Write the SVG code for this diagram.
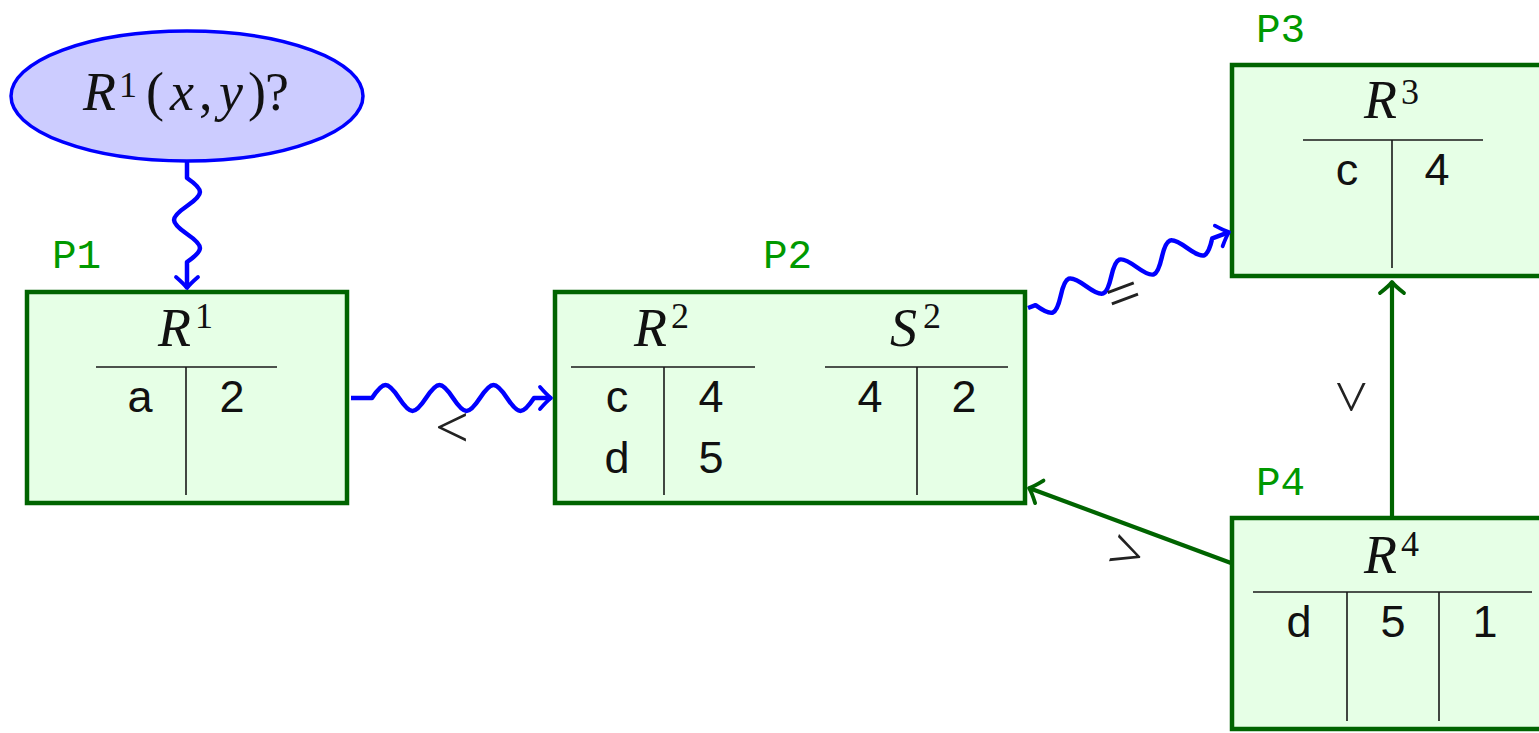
<svg xmlns="http://www.w3.org/2000/svg" width="1539" height="733" viewBox="0 0 1539 733">
<style>
.box{fill:#e6ffe6;stroke:#006400;stroke-width:4.5}
.tl{stroke:#1a1a1a;stroke-width:1.6;fill:none}
.math{font-family:"Liberation Serif","Times New Roman",serif;font-size:54px;fill:#111}
.it{font-style:italic}
.sup{font-size:36px;font-style:normal}
.cell{font-family:"Liberation Sans",Arial,sans-serif;font-size:45px;fill:#111;text-anchor:middle}
.pl{font-family:"Liberation Mono","Courier New",monospace;font-size:41px;fill:#009900}
.wave{fill:none;stroke:#0000ff;stroke-width:4.5;stroke-linejoin:round}
.gline{fill:none;stroke:#006400;stroke-width:4.2}
.rel{font-family:"Liberation Serif","Times New Roman",serif;font-size:60px;fill:#222;text-anchor:middle}
</style>
<defs>
<marker id="ab" markerUnits="userSpaceOnUse" viewBox="-14 -14 16 28" markerWidth="16" markerHeight="28" refX="0" refY="0" orient="auto" overflow="visible">
<path d="M-11,-11 Q-4,-3 0,0 Q-4,3 -11,11" fill="none" stroke="#0000ff" stroke-width="3.8" stroke-linecap="round" stroke-linejoin="round"/>
</marker>
<marker id="ag" markerUnits="userSpaceOnUse" viewBox="-14 -14 16 28" markerWidth="16" markerHeight="28" refX="0" refY="0" orient="auto" overflow="visible">
<path d="M-11,-12 Q-4,-3 0,0 Q-4,3 -11,12" fill="none" stroke="#006400" stroke-width="3.8" stroke-linecap="round" stroke-linejoin="round"/>
</marker>
</defs>
<rect width="1539" height="733" fill="#ffffff"/>

<g id="query">
<ellipse cx="187" cy="96" rx="176" ry="65" fill="#ccccff" stroke="#0000ff" stroke-width="3.5"/>
<text class="math"><tspan x="83" y="110" class="it">R</tspan><tspan x="119" y="97" class="sup">1</tspan><tspan x="146" y="110">(</tspan><tspan x="170" y="110" class="it">x</tspan><tspan x="199" y="110">,</tspan><tspan x="219" y="110" class="it">y</tspan><tspan x="248" y="110">)</tspan><tspan x="265" y="110">?</tspan></text>
</g>

<g id="P1">
<text class="pl" x="52" y="268">P1</text>
<rect class="box" x="27" y="292" width="320" height="211"/>
<text class="math"><tspan x="158" y="346" class="it">R</tspan><tspan x="195" y="328" class="sup">1</tspan></text>
<path class="tl" d="M96,367 H277 M186,367 V495"/>
<text class="cell" x="140" y="412">a</text>
<text class="cell" x="232" y="412">2</text>
</g>

<g id="P2">
<text class="pl" x="763" y="268">P2</text>
<rect class="box" x="555" y="292" width="470" height="211"/>
<text class="math"><tspan x="634" y="346" class="it">R</tspan><tspan x="671" y="328" class="sup">2</tspan></text>
<text class="math"><tspan x="890" y="346" class="it">S</tspan><tspan x="923" y="328" class="sup">2</tspan></text>
<path class="tl" d="M571,367 H755 M664,367 V495 M825,367 H1008 M917,367 V495"/>
<text class="cell" x="617" y="412">c</text>
<text class="cell" x="711" y="412">4</text>
<text class="cell" x="617" y="473">d</text>
<text class="cell" x="711" y="473">5</text>
<text class="cell" x="870" y="412">4</text>
<text class="cell" x="964" y="412">2</text>
</g>

<g id="P3">
<text class="pl" x="1256" y="42">P3</text>
<rect class="box" x="1232" y="65" width="330" height="211"/>
<text class="math"><tspan x="1364" y="118" class="it">R</tspan><tspan x="1401" y="104" class="sup">3</tspan></text>
<path class="tl" d="M1303,140 H1483 M1392,140 V268"/>
<text class="cell" x="1347" y="185">c</text>
<text class="cell" x="1437" y="185">4</text>
</g>

<g id="P4">
<text class="pl" x="1256" y="495">P4</text>
<rect class="box" x="1232" y="518" width="330" height="211"/>
<text class="math"><tspan x="1364" y="573" class="it">R</tspan><tspan x="1401" y="556" class="sup">4</tspan></text>
<path class="tl" d="M1253,592 H1532 M1347,592 V721 M1439,592 V721"/>
<text class="cell" x="1299" y="637">d</text>
<text class="cell" x="1393" y="637">5</text>
<text class="cell" x="1485" y="637">1</text>
</g>

<g id="connectors">
<path class="wave" marker-end="url(#ab)" d="M187,162 V178 C204.3,189.9 204.3,194.1 187,206 C169.7,217.9 169.7,222.1 187,234 C204.3,245.9 204.3,250.1 187,262 V288"/>
<path class="wave" marker-end="url(#ab)" d="M351,398 H372 C383.5,380.7 387.5,380.7 399,398 C410.5,415.3 414.5,415.3 426,398 C437.5,380.7 441.5,380.7 453,398 C464.5,415.3 468.5,415.3 480,398 C491.5,380.7 495.5,380.7 507,398 C518.5,415.3 522.5,415.3 534,398 H551"/>
<path class="wave" marker-end="url(#ab)" transform="translate(1028,308) rotate(-20.7)" d="M0,0 H8 C19.46,17.3 23.54,17.3 35,0 C46.46,-17.3 50.54,-17.3 62,0 C73.46,17.3 77.54,17.3 89,0 C100.46,-17.3 104.54,-17.3 116,0 C127.46,17.3 131.54,17.3 143,0 C154.46,-17.3 158.54,-17.3 170,0 C181.46,17.3 185.54,17.3 197,0 H214.9"/>
<path class="gline" marker-end="url(#ag)" d="M1231,563 L1029,488"/>
<path class="gline" marker-end="url(#ag)" d="M1392,516 V282"/>
<text class="rel" x="452" y="447">&lt;</text>
<text class="rel" transform="translate(1125,299) rotate(-20.7)" x="0" y="14">=</text>
<text class="rel" transform="translate(1125,558) rotate(20.3)" x="0" y="14">&gt;</text>
<text class="rel" transform="translate(1357,397) rotate(-90)" x="0" y="14">&lt;</text>
</g>
</svg>
